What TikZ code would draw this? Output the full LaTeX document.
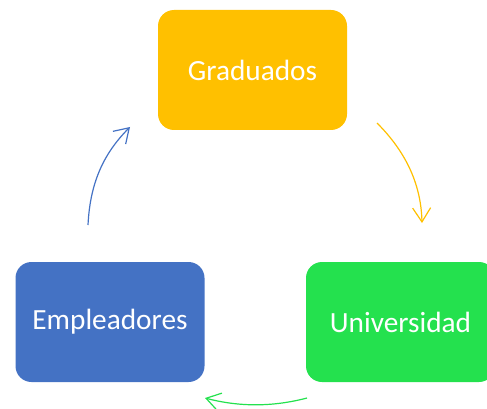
\documentclass[tikz,border=0pt]{standalone}
\usepackage{fontspec}
\setmainfont{Carlito}
\usetikzlibrary{arrows.meta}

\definecolor{amarillo}{HTML}{FFC000}
\definecolor{verde}{HTML}{24E14E}
\definecolor{azul}{HTML}{4472C4}

\begin{document}
\begin{tikzpicture}[x=1pt, y=-1pt,
        caja/.style={rounded corners=16pt, minimum width=189pt, minimum height=120pt,
                     text=white, font=\fontsize{29.3}{35}\selectfont},
        flecha/.style={line width=1.2pt, -{Straight Barb[length=14pt, width=18pt]}}]
                \useasboundingbox (0, 0) rectangle (487, 409);
                \clip (0, 0) rectangle (487, 409);

                \node[caja, fill=amarillo] (grad) at (252.5, 70) {Graduados};
                \node[caja, fill=verde] (univ) at (400.5, 322) {Universidad};
                \node[caja, fill=azul] (empl) at (110, 322) {Empleadores};

                \coordinate (y0) at (377, 123);
                \coordinate (y1) at (422, 223);
                \coordinate (v0) at (307, 398);
                \coordinate (v1) at (205, 398);
                \coordinate (a0) at (88, 225);
                \coordinate (a1) at (130, 127);

                \draw[flecha, amarillo] (y0) .. controls (405, 151) and (421, 183) .. (y1);
                \draw[flecha, verde] (v0) .. controls (273, 407) and (239, 407) .. (v1);
                \draw[flecha, azul] (a0) .. controls (90, 185) and (102, 155) .. (a1);
            \end{tikzpicture}
\end{document}
